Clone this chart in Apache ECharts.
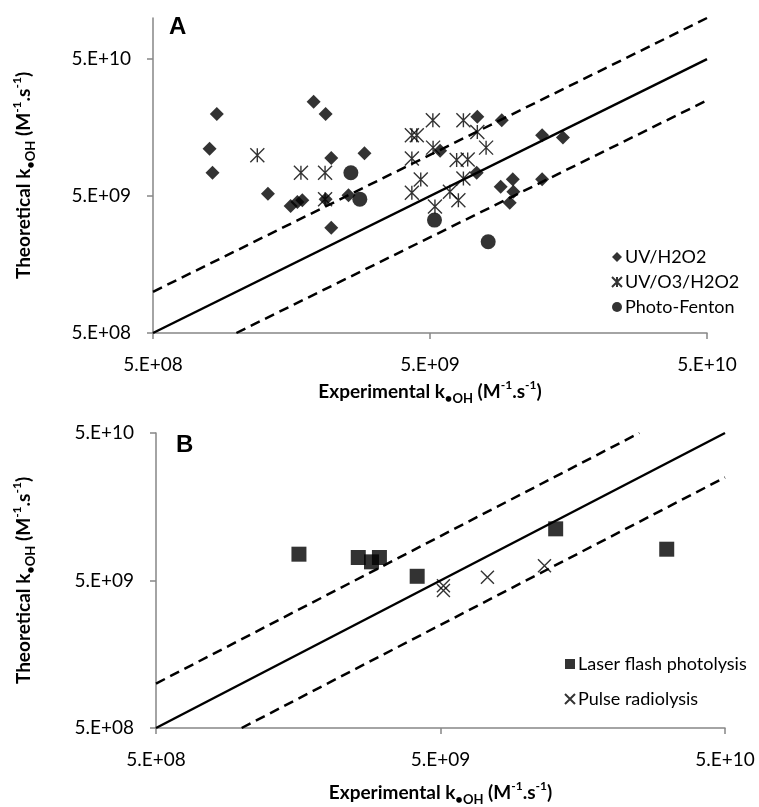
<!DOCTYPE html>
<html>
<head>
<meta charset="utf-8">
<script src="https://cdn.jsdelivr.net/npm/echarts@6/dist/echarts.min.js"></script>
<style>
  html, body { margin: 0; padding: 0; background: #fff; }
  #chart { width: 759px; height: 807px; }
</style>
</head>
<body>
<div id="chart"></div>
<script>
// panel A: advanced oxidation processes, [experimental, theoretical]
const uvH2o2 = [
    [8.5e8, 1.99e10], [8.0e8, 1.11e10], [8.2e8, 7.4e9], [1.9e9, 2.44e10],
    [2.1e9, 1.99e10], [2.2e9, 9.5e9], [2.9e9, 1.03e10], [1.3e9, 5.2e9],
    [1.57e9, 4.23e9], [1.66e9, 4.52e9], [1.73e9, 4.67e9], [2.1e9, 4.75e9],
    [2.54e9, 5.08e9], [2.2e9, 2.94e9], [5.44e9, 1.07e10], [7.41e9, 1.9e10],
    [9.08e9, 1.79e10], [7.37e9, 7.4e9], [1.27e10, 1.39e10], [1.51e10, 1.34e10],
    [9.0e9, 5.85e9], [9.95e9, 6.65e9], [1.0e10, 5.37e9], [9.7e9, 4.47e9],
    [1.27e10, 6.65e9]
];
const uvO3H2o2 = [
    [1.19e9, 9.96e9], [1.71e9, 7.4e9], [2.09e9, 7.4e9], [2.09e9, 4.75e9],
    [4.3e9, 1.39e10], [4.48e9, 1.39e10], [5.12e9, 1.79e10], [4.3e9, 9.42e9],
    [4.63e9, 6.62e9], [4.3e9, 5.29e9], [5.21e9, 4.19e9], [5.13e9, 1.13e10],
    [6.6e9, 1.79e10], [7.41e9, 1.47e10], [7.97e9, 1.13e10], [6.24e9, 9.16e9],
    [6.84e9, 9.27e9], [6.6e9, 6.73e9], [5.9e9, 5.37e9], [6.33e9, 4.67e9]
];
const photoFenton = [
    [2.59e9, 7.4e9], [2.79e9, 4.75e9], [5.19e9, 3.34e9], [8.11e9, 2.32e9]
];

// panel B: direct measurements
const laserFlash = [
    [1.59e9, 7.54e9], [2.57e9, 7.16e9], [2.86e9, 6.69e9], [3.05e9, 7.16e9],
    [4.14e9, 5.34e9], [1.27e10, 1.12e10], [3.12e10, 8.15e9]
];
const pulseRadiolysis = [
    [5.12e9, 4.61e9], [5.12e9, 4.27e9], [7.31e9, 5.26e9], [1.16e10, 6.29e9]
];

// reference lines: 1:1, x2 and /2
const lineOneA = [[5e8, 5e8], [5e10, 5e10]];
const lineUpA = [[5e8, 1e9], [5e10, 1e11]];
const lineLowA = [[1e9, 5e8], [5e10, 2.5e10]];
const lineOneB = [[5e8, 5e8], [5e10, 5e10]];
const lineUpB = [[5e8, 1e9], [2.5e10, 5e10]];
const lineLowB = [[1e9, 5e8], [5e10, 2.5e10]];

const tickValues = [5e8, 5e9, 5e10];

const FONT = 'Lato';
const starPath = 'path://M0,0L10,10M10,0L0,10M5,0L5,10';
const crossPath = 'path://M0,0L10,10M10,0L0,10';

function fmtTick(v) {
    const e = Math.round(Math.log10(v / 5));
    return '5.E+' + (e < 10 ? '0' : '') + e;
}

const nameRich = {
    b: { fontFamily: FONT, fontWeight: 'bold', fontSize: 19, color: '#000', lineHeight: 26 },
    sub: { fontFamily: FONT, fontWeight: 'bold', fontSize: 13, color: '#000', lineHeight: 14, verticalAlign: 'bottom' },
    sup: { fontFamily: FONT, fontWeight: 'bold', fontSize: 12, color: '#000', lineHeight: 16, verticalAlign: 'top' }
};

const tickLabel = { customValues: tickValues, formatter: fmtTick, color: '#000', fontFamily: FONT, fontSize: 19, margin: 22 };

function logAxis(max, extra) {
    return Object.assign({
        type: 'log',
        logBase: 10,
        min: 5e8,
        max: max,
        axisLine: { lineStyle: { color: '#868686', width: 1.5 } },
        axisTick: { show: true, length: 6, customValues: tickValues, lineStyle: { color: '#868686', width: 1.5 } },
        axisLabel: tickLabel,
        splitLine: { show: false },
        minorTick: { show: false },
        nameLocation: 'middle',
        nameTextStyle: { rich: nameRich }
    }, extra);
}

const xName = '{b|Experimental k}{sub|•OH}{b| (M}{sup|-1}{b|.s}{sup|-1}{b|)}';
const yName = '{b|Theoretical k}{sub|•OH}{b| (M}{sup|-1}{b|.s}{sup|-1}{b|)}';

function refLine(data, xi, dashed) {
    return {
        type: 'line', data: data, xAxisIndex: xi, yAxisIndex: xi,
        showSymbol: false, silent: true, z: 1,
        lineStyle: { color: '#000', width: 2.5, type: dashed ? [10, 6] : 'solid' }
    };
}

const legendText = { fontFamily: FONT, fontSize: 18, color: '#000', padding: [0, 0, 0, -2] };

const chart = echarts.init(document.getElementById('chart'));
chart.setOption({
    animation: false,
    backgroundColor: '#fff',
    grid: [
        { left: 153, top: 18, width: 554, height: 315 },
        { left: 156, top: 433, width: 569, height: 297 }
    ],
    xAxis: [
        logAxis(5e10, { gridIndex: 0, name: xName, nameGap: 46 }),
        logAxis(5e10, { gridIndex: 1, name: xName, nameGap: 52 })
    ],
    yAxis: [
        logAxis(1e11, { gridIndex: 0, name: yName, nameGap: 116, nameRotate: 90 }),
        logAxis(5e10, { gridIndex: 1, name: yName, nameGap: 119, nameRotate: 90 })
    ],
    legend: [
        {
            data: ['UV/H2O2', 'UV/O3/H2O2', 'Photo-Fenton'],
            orient: 'vertical', left: 606, top: 243, itemGap: 7,
            itemWidth: 10, itemHeight: 10,
            textStyle: legendText
        },
        {
            data: ['Laser flash photolysis', 'Pulse radiolysis'],
            orient: 'vertical', left: 559, top: 650, itemGap: 17,
            itemWidth: 10, itemHeight: 10,
            textStyle: legendText
        }
    ],
    graphic: [
        { type: 'text', left: 169, top: 15, style: { text: 'A', font: 'bold 24px "Liberation Sans"', fill: '#000' } },
        { type: 'text', left: 176, top: 433, style: { text: 'B', font: 'bold 24px "Liberation Sans"', fill: '#000' } }
    ],
    series: [
        refLine(lineOneA, 0, false),
        refLine(lineUpA, 0, true),
        refLine(lineLowA, 0, true),
        refLine(lineOneB, 1, false),
        refLine(lineUpB, 1, true),
        refLine(lineLowB, 1, true),
        {
            name: 'UV/H2O2', type: 'scatter', data: uvH2o2, xAxisIndex: 0, yAxisIndex: 0,
            symbol: 'diamond', symbolSize: 14, itemStyle: { color: '#000' }, z: 3
        },
        {
            name: 'UV/O3/H2O2', type: 'scatter', data: uvO3H2o2, xAxisIndex: 0, yAxisIndex: 0,
            symbol: starPath, symbolSize: 14,
            itemStyle: { color: '#000', borderColor: '#000', borderWidth: 1.4 }, z: 3
        },
        {
            name: 'Photo-Fenton', type: 'scatter', data: photoFenton, xAxisIndex: 0, yAxisIndex: 0,
            symbol: 'circle', symbolSize: 15, itemStyle: { color: '#000' }, z: 3
        },
        {
            name: 'Laser flash photolysis', type: 'scatter', data: laserFlash, xAxisIndex: 1, yAxisIndex: 1,
            symbol: 'rect', symbolSize: 15, itemStyle: { color: '#000' }, z: 3
        },
        {
            name: 'Pulse radiolysis', type: 'scatter', data: pulseRadiolysis, xAxisIndex: 1, yAxisIndex: 1,
            symbol: crossPath, symbolSize: 13,
            itemStyle: { color: '#000', borderColor: '#000', borderWidth: 1.4 }, z: 3
        }
    ]
});
</script>
</body>
</html>
